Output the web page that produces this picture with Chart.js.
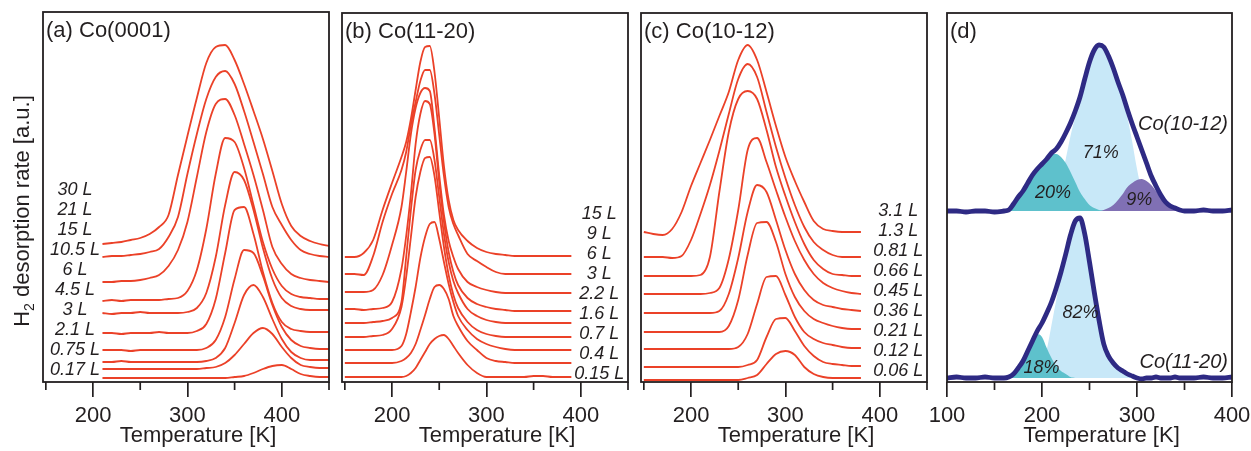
<!DOCTYPE html>
<html>
<head>
<meta charset="utf-8">
<title>H2 desorption from Co surfaces</title>
<script src="https://cdn.jsdelivr.net/npm/chart.js"></script>
<style>
  html, body { margin: 0; padding: 0; background: #fff; }
  body { position: relative; width: 1251px; height: 451px; overflow: hidden; }
  .panel { position: absolute; top: 0; height: 451px; }
</style>
</head>
<body>
<div class="panel" style="left:0px;width:359px"><canvas id="chartA"></canvas></div>
<div class="panel" style="left:312px;width:346px"><canvas id="chartB"></canvas></div>
<div class="panel" style="left:611px;width:346px"><canvas id="chartC"></canvas></div>
<div class="panel" style="left:917px;width:341px"><canvas id="chartD"></canvas></div>
<script>
"use strict";

const INK = '#231f20';
const RED = '#eb4128';
const NAVY = '#2e2a84';
const FONT = '"Liberation Sans", Arial, Helvetica, sans-serif';

// ---- (a) Co(0001) ----
const tempA = [210,220,230,240,250,260,270,280,290,300,310,320,330,340,350,360,370,380,390,400,410,420,430,440,450];
const doseA = ['30 L','21 L','15 L','10.5 L','6 L','4.5 L','3 L','2.1 L','0.75 L','0.17 L'];
const a30 = [138,139,140,142,144,148,155,167,207,246,284,319,335,337,322,298,271,243,211,178,156,146,141,138,136];
const a21 = [125,126,126,127,128,130,133,145,165,208,248,283,305,311,298,271,240,208,175,157,142,132,128,126,125];
const a15 = [100,100,101,101,102,104,107,116,132,160,205,250,278,283,267,238,207,172,135,118,108,104,102,101,100];
const a10_5 = [81,82,81,82,82,82,82,83,84,91,112,153,208,244,240,214,177,140,113,96,88,85,84,83,83];
const a6 = [69,68,69,69,70,69,69,69,69,70,74,89,125,177,210,202,172,134,103,84,76,73,72,72,72];
const a4_5 = [49,49,48,49,49,49,50,49,49,49,51,58,83,129,172,175,148,110,79,60,53,51,50,50,50];
const a3 = [32,32,32,31,32,32,32,32,32,32,32,34,42,65,103,132,129,106,77,55,42,36,34,33,33];
const a2_1 = [20,20,21,20,20,20,20,20,20,20,20,21,24,34,59,87,97,85,63,43,30,24,22,22,22];
const a0_75 = [13,13,13,13,13,13,13,13,13,13,13,14,15,19,27,38,49,54,48,35,24,17,15,14,14];
const a0_17 = [4,4,4,4,4,4,4,4,4,4,4,4,4,4,5,6,9,13,16,17,13,8,6,5,5];

// ---- (b) Co(11-20) ----
const tempB = [150,160,170,180,190,200,210,215,220,225,230,235,240,245,250,255,260,265,270,280,290,300,310,320,330,340,350,360,370,380,390];
const doseB = ['15 L','9 L','6 L','3 L','2.2 L','1.6 L','0.7 L','0.4 L','0.15 L'];
const b15 = [125,125,129,142,172,199,225,240,263,292,320,335,336,310,264,216,182,162,152,141,134,130,128,127,126,126,126,126,126,126,126];
const b9 = [108,108,107,126,160,188,212,230,257,280,301,312,312,288,247,206,175,158,147,128,121,115,110,108,108,108,108,108,108,108,108];
const b6 = [90,90,90,92,107,137,175,210,248,274,289,294,291,254,207,167,141,125,113,100,95,92,90,89,89,89,89,89,89,89,89];
const b3 = [73,73,72,73,74,80,113,146,188,238,268,281,278,248,200,160,130,110,97,84,78,75,73,72,71,71,71,71,71,71,71];
const b2_2 = [59,59,59,60,61,64,80,125,172,212,232,242,242,222,185,148,120,101,89,73,66,62,60,59,59,59,59,59,59,59,59];
const b1_6 = [45,45,45,46,47,53,75,105,145,185,210,224,225,206,170,135,107,87,74,60,52,48,46,45,45,45,45,45,45,45,45];
const b0_7 = [32,32,32,32,32,32,36,48,70,95,124,145,158,160,143,120,98,80,66,52,43,38,35,33,32,32,32,32,32,32,32];
const b0_4 = [19,19,19,19,19,19,21,24,29,38,52,67,83,95,97,93,83,66,56,41,32,24,21,20,19,19,19,19,19,19,19];
const b0_15 = [5,5,5,5,5,5,5,6,9,14,22,30,38,43,46,47,43,36,29,17,9,5,5,5,5,5,6,6,5,5,5];

// ---- (c) Co(10-12) ----
const tempC = [150,160,170,180,190,200,210,220,230,240,250,260,270,280,290,300,310,320,330,340,350,360,370,380];
const doseC = ['3.1 L','1.3 L','0.81 L','0.66 L','0.45 L','0.36 L','0.21 L','0.12 L','0.06 L'];
const c3_1 = [150,148,147,153,170,196,219,242,266,290,322,337,322,290,256,225,201,180,161,153,151,150,150,150];
const c1_3 = [125,125,125,124,126,142,168,197,231,268,303,318,305,270,235,204,177,155,140,132,127,125,125,125];
const c0_81 = [106,106,106,106,106,106,107,125,190,250,283,291,283,252,215,186,160,138,122,113,108,107,106,106];
const c0_66 = [88,88,88,88,88,88,88,89,94,123,172,232,244,220,192,165,141,122,108,99,94,91,89,88];
const c0_45 = [69,69,69,69,69,69,69,69,71,88,124,170,197,190,162,132,108,92,82,77,75,73,72,71];
const c0_36 = [50,50,50,50,50,50,50,50,50,56,82,127,159,160,140,108,85,71,63,59,56,54,53,53];
const c0_21 = [33,33,33,33,33,33,33,33,33,33,35,48,78,105,106,87,65,50,43,39,37,35,34,34];
const c0_12 = [15,15,15,15,15,15,15,15,15,15,15,17,22,45,63,64,51,36,26,20,18,17,16,16];
const c0_06 = [2,2,2,2,2,2,2,2,2,2,2,4,7,18,28,31,27,15,8,5,4,4,4,4];

// ---- (d) peak deconvolution ----
const tempD = [100,110,120,130,140,150,160,165,170,175,180,185,190,195,200,205,210,215,220,225,230,235,240,245,250,255,260,265,270,275,280,285,290,295,300,305,310,315,320,325,330,335,340,345,350,360,370,380,390,400];
const co1012 = [171,171,170,171,171,170,171,172,178,185,191,199,207,213,218,223,229,233,240,249,259,271,285,303,320,332,337,335,326,314,300,287,272,258,245,232,219,206,196,187,180,176,174,172,171,171,172,171,171,172];
const co1120 = [4,5,4,4,5,4,4,5,8,14,21,31,41,51,59,69,80,94,110,128,147,161,164,148,120,90,62,38,26,19,14,11,8,6,4,3,4,4,5,4,4,4,5,4,4,4,5,4,4,5];
const tealUpT = [160,165,170,175,180,185,190,195,200,205,210,215,220,225,230,235,240,245,250,255,260,265];
const tealUp = [171,172,176,183,190,198,206,213,219,224,228,228,225,219,210,200,190,183,177,174,172,171];
const blueUpT = [195,200,205,210,215,220,225,230,235,240,245,250,255,260,265,270,275,280,285,290,295,300,305,310,315,320,325];
const blueUp = [171,172,175,181,190,203,223,246,265,284,302,318,330,335,333,324,312,297,283,264,240,213,192,180,173,171,171];
const violetUpT = [260,265,270,275,280,285,290,295,300,305,310,315,320,325,330,335,340,345];
const violetUp = [171,172,174,177,182,188,195,199,202,203,201,197,191,184,178,174,172,171];
const tealLowT = [165,170,175,180,185,190,195,200,205,210,215,220,225,230,235];
const tealLow = [4,7,13,20,30,40,48,45,34,24,16,11,8,5,4];
const blueLowT = [185,190,195,200,205,210,215,220,225,230,235,240,245,250,255,260,265,270,275,280,285,290,295,300];
const blueLow = [4,5,8,14,32,57,82,107,128,146,159,162,146,118,88,60,37,25,18,13,10,7,5,4];

function points(temps, vals) {
  return temps.map((t, i) => ({ x: t, y: vals[i] }));
}

function redCurves(temps, series) {
  return series.map(vals => ({
    data: points(temps, vals),
    borderColor: RED,
    borderWidth: 1.8,
    pointRadius: 0,
    cubicInterpolationMode: 'monotone',
    fill: false
  }));
}

function area(temps, vals, color, base) {
  return {
    data: points(temps, vals),
    borderColor: 'transparent',
    borderWidth: 0,
    backgroundColor: color,
    pointRadius: 0,
    cubicInterpolationMode: 'monotone',
    fill: { value: base }
  };
}

function doseNotes(labels, x, bottom) {
  const n = labels.length;
  return labels.map((t, i) => ({ text: t, x: x, y: bottom + 20 * (n - 1 - i), size: 18, align: 'center' }));
}

function framePlugin(cfg) {
  return {
    id: 'frame',
    afterDraw(chart) {
      const { ctx, chartArea: a } = chart;
      const sx = chart.scales.x, sy = chart.scales.y;
      ctx.save();
      ctx.strokeStyle = INK;
      ctx.lineWidth = 1.8;
      ctx.strokeRect(a.left, a.top, a.right - a.left, a.bottom - a.top);
      ctx.lineWidth = 1.7;
      cfg.minor.forEach(v => {
        const px = sx.getPixelForValue(v);
        ctx.beginPath();
        ctx.moveTo(px, a.bottom);
        ctx.lineTo(px, a.bottom + 8);
        ctx.stroke();
      });
      ctx.fillStyle = INK;
      ctx.font = '22px ' + FONT;
      ctx.textAlign = 'left';
      ctx.textBaseline = 'alphabetic';
      ctx.fillText(cfg.title, a.left + 3, a.top + 25);
      ctx.textAlign = 'center';
      ctx.fillText('Temperature [K]', (a.left + a.right) / 2 + 12, a.bottom + 60);
      ctx.textBaseline = 'middle';
      cfg.notes.forEach(n => {
        ctx.font = 'italic ' + n.size + 'px ' + FONT;
        ctx.textAlign = n.align;
        ctx.fillText(n.text, sx.getPixelForValue(n.x), sy.getPixelForValue(n.y));
      });
      if (cfg.yTitle) {
        // rotated y label with subscript 2
        ctx.translate(29, 211);
        ctx.rotate(-Math.PI / 2);
        ctx.textAlign = 'left';
        ctx.textBaseline = 'alphabetic';
        const rest = ' desorption rate [a.u.]';
        ctx.font = '22px ' + FONT;
        const w1 = ctx.measureText('H').width;
        const w3 = ctx.measureText(rest).width;
        ctx.font = '14px ' + FONT;
        const w2 = ctx.measureText('2').width;
        const s = -(w1 + w2 + w3) / 2;
        ctx.font = '22px ' + FONT;
        ctx.fillText('H', s, 0);
        ctx.font = '14px ' + FONT;
        ctx.fillText('2', s + w1, 5);
        ctx.font = '22px ' + FONT;
        ctx.fillText(rest, s + w1 + w2, 0);
      }
      ctx.restore();
    }
  };
}

function buildChart(id, c) {
  new Chart(document.getElementById(id), {
    type: 'line',
    data: { datasets: c.datasets },
    options: {
      responsive: true,
      maintainAspectRatio: false,
      animation: false,
      events: [],
      layout: { padding: c.pad },
      plugins: { legend: { display: false }, tooltip: { enabled: false } },
      scales: {
        x: {
          type: 'linear',
          min: c.xmin,
          max: c.xmax,
          afterBuildTicks: ax => { ax.ticks = c.major.map(v => ({ value: v })); },
          afterFit: ax => { ax.height = 69; },
          ticks: { color: INK, font: { family: FONT, size: 22 }, padding: 6, maxRotation: 0, autoSkip: false },
          grid: { drawOnChartArea: false, tickLength: 15, color: INK, lineWidth: 1.7 },
          border: { display: false }
        },
        y: { display: false, min: 0, max: c.ymax }
      }
    },
    plugins: [framePlugin(c)]
  });
}

buildChart('chartA', {
  datasets: redCurves(tempA, [a30, a21, a15, a10_5, a6, a4_5, a3, a2_1, a0_75, a0_17]),
  pad: { left: 43, right: 30, top: 12, bottom: 0 },
  xmin: 147, xmax: 450, ymax: 370,
  major: [200, 300, 400], minor: [150, 250, 350, 450],
  title: '(a) Co(0001)',
  notes: doseNotes(doseA, 181, 12),
  yTitle: true
});

buildChart('chartB', {
  datasets: redCurves(tempB, [b15, b9, b6, b3, b2_2, b1_6, b0_7, b0_4, b0_15]),
  pad: { left: 30, right: 30, top: 13, bottom: 0 },
  xmin: 147, xmax: 450, ymax: 369,
  major: [200, 300, 400], minor: [150, 250, 350, 450],
  title: '(b) Co(11-20)',
  notes: doseNotes(doseB, 419.5, 8)
});

buildChart('chartC', {
  datasets: redCurves(tempC, [c3_1, c1_3, c0_81, c0_66, c0_45, c0_36, c0_21, c0_12, c0_06]),
  pad: { left: 30, right: 30, top: 13, bottom: 0 },
  xmin: 147, xmax: 450, ymax: 369,
  major: [200, 300, 400], minor: [150, 250, 350, 450],
  title: '(c) Co(10-12)',
  notes: doseNotes(doseC, 419.6, 11)
});

const navyLine = vals => ({
  data: points(tempD, vals),
  borderColor: NAVY,
  borderWidth: 4.8,
  borderJoinStyle: 'round',
  borderCapStyle: 'round',
  pointRadius: 0,
  cubicInterpolationMode: 'monotone',
  fill: false
});

buildChart('chartD', {
  datasets: [
    navyLine(co1012),
    navyLine(co1120),
    area(tealUpT, tealUp, '#5ec1cc', 171),
    area(violetUpT, violetUp, '#8070b4', 171),
    area(tealLowT, tealLow, '#5ec1cc', 4),
    area(blueUpT, blueUp, '#c8e8f8', 171),
    area(blueLowT, blueLow, '#c8e8f8', 4)
  ],
  pad: { left: 30, right: 26, top: 13, bottom: 0 },
  xmin: 100, xmax: 400, ymax: 369,
  major: [100, 200, 300, 400], minor: [150, 250, 350],
  title: '(d)',
  notes: [
    { text: '71%', x: 261.8, y: 229, size: 18, align: 'center' },
    { text: '20%', x: 211.6, y: 189, size: 18, align: 'center' },
    { text: '9%', x: 302.4, y: 182, size: 18, align: 'center' },
    { text: '82%', x: 240.5, y: 69, size: 18, align: 'center' },
    { text: '18%', x: 199.4, y: 14, size: 18, align: 'center' },
    { text: 'Co(10-12)', x: 395.8, y: 258, size: 20, align: 'right' },
    { text: 'Co(11-20)', x: 395.8, y: 20, size: 20, align: 'right' }
  ]
});
</script>
</body>
</html>
